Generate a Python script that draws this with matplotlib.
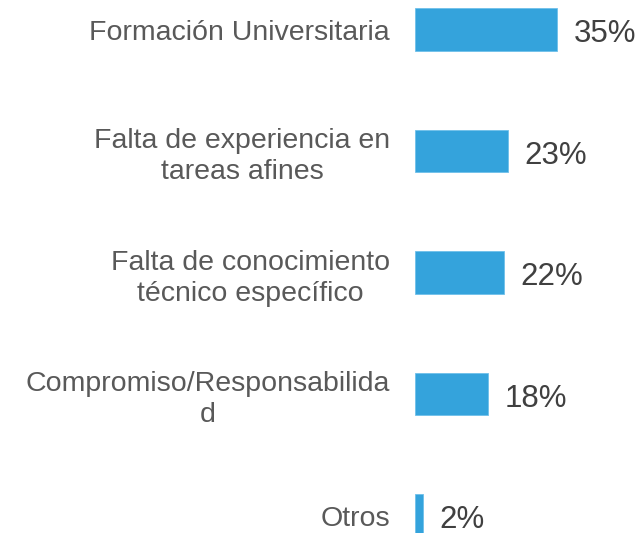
import matplotlib
matplotlib.use("Agg")
import matplotlib.pyplot as plt

categories = ["Formación Universitaria",
              "Falta de experiencia en\ntareas afines",
              "Falta de conocimiento\ntécnico específico",
              "Compromiso/Responsabilida\nd",
              "Otros"]
values = [35, 23, 22, 18, 2]
value_labels = ["35%", "23%", "22%", "18%", "2%"]

plt.rcParams['font.family'] = ['Liberation Sans', 'DejaVu Sans']

W, H = 639, 533
fig = plt.figure(figsize=(W / 100, H / 100), dpi=100)
left_px = 415
ax = fig.add_axes([left_px / W, 0, (W - left_px) / W, 1])

px_per_unit = 4.05
ax.set_xlim(0, (W - left_px) / px_per_unit)
top_c, step = 29.5, 121.5
ax.set_ylim((H - top_c) / step, -top_c / step)

ypos = list(range(len(categories)))
ax.barh(ypos, values, height=0.35, color="#34A3DC",
        edgecolor="#6FC0EA", linewidth=0.6)

ax.set_yticks(ypos)
ax.set_yticklabels(categories, fontsize=20.5, color="#595959",
                   multialignment="center", linespacing=1.26)
ax.tick_params(axis="y", length=0, pad=18)
ax.set_xticks([])
for s in ax.spines.values():
    s.set_visible(False)

for y, v, lab in zip(ypos, values, value_labels):
    ax.annotate(lab, xy=(v, y), xytext=(12, -9.1), textcoords="offset points",
                ha="left", va="baseline", fontsize=22.5, color="#404040")

fig.savefig("out.png", dpi=100)
